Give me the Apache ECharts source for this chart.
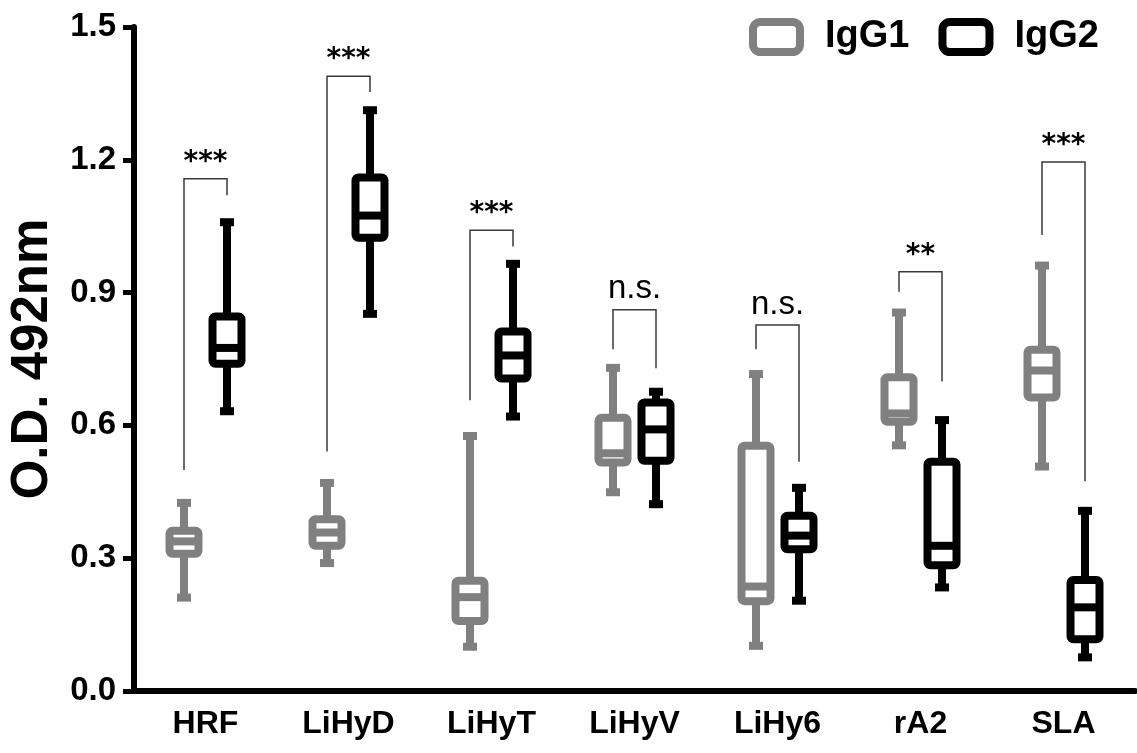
<!DOCTYPE html>
<html>
<head>
<meta charset="utf-8">
<script src="https://cdn.jsdelivr.net/npm/echarts@6/dist/echarts.min.js"></script>
<style>html,body{margin:0;padding:0;background:#fff;}#c{width:1137px;height:753px;}</style>
</head>
<body>
<div id="c"></div>
<script>
// ---- data ----
const categories = ['HRF', 'LiHyD', 'LiHyT', 'LiHyV', 'LiHy6', 'rA2', 'SLA'];
const yTicks = [0, 0.3, 0.6, 0.9, 1.2, 1.5];
// [min, Q1, median, Q3, max]
const igg1 = [
  [0.211, 0.310, 0.338, 0.362, 0.425],
  [0.289, 0.328, 0.358, 0.388, 0.470],
  [0.100, 0.158, 0.212, 0.249, 0.576],
  [0.449, 0.516, 0.537, 0.617, 0.730],
  [0.102, 0.203, 0.236, 0.554, 0.716],
  [0.555, 0.608, 0.627, 0.709, 0.855],
  [0.507, 0.663, 0.724, 0.771, 0.961]
];
const igg2 = [
  [0.632, 0.739, 0.775, 0.846, 1.059],
  [0.852, 1.024, 1.074, 1.160, 1.312],
  [0.620, 0.706, 0.758, 0.812, 0.965],
  [0.422, 0.520, 0.591, 0.652, 0.676],
  [0.204, 0.320, 0.351, 0.396, 0.459],
  [0.234, 0.284, 0.328, 0.518, 0.612],
  [0.076, 0.117, 0.189, 0.251, 0.407]
];
const sigLabels = ['***', '***', '***', 'n.s.', 'n.s.', '**', '***'];
const bracketTop = [1.157, 1.389, 1.041, 0.861, 0.827, 0.947, 1.195];
const bracketLeftEnd = [0.499, 0.541, 0.657, 0.772, 0.772, 0.902, 1.030];
const bracketRightEnd = [1.120, 1.353, 1.004, 0.729, 0.518, 0.699, 0.474];

// ---- chart ----
const GRAY = '#808080';
const BLACK = '#000000';
const OFFSET = 21.5;
const BOLD = '"Liberation Sans", Arial, sans-serif';

function boxRenderer(offset, color) {
  return function (params, api) {
    const ci = api.value(0);
    const cx = api.coord([ci, 0])[0] + offset;
    const yMin = api.coord([ci, api.value(1)])[1];
    const yQ1 = api.coord([ci, api.value(2)])[1];
    const yMed = api.coord([ci, api.value(3)])[1];
    const yQ3 = api.coord([ci, api.value(4)])[1];
    const yMax = api.coord([ci, api.value(5)])[1];
    const bw = 29, lw = 8, capW = 14, capH = 8;
    const line = (x1, y1, x2, y2) => ({
      type: 'line', shape: { x1, y1, x2, y2 },
      style: { stroke: color, lineWidth: lw }
    });
    return {
      type: 'group',
      children: [
        line(cx, yMax, cx, yQ3),
        line(cx, yQ1, cx, yMin),
        { type: 'rect', shape: { x: cx - capW / 2, y: yMax - capH / 2, width: capW, height: capH }, style: { fill: color } },
        { type: 'rect', shape: { x: cx - capW / 2, y: yMin - capH / 2, width: capW, height: capH }, style: { fill: color } },
        { type: 'rect', shape: { x: cx - bw / 2, y: yQ3, width: bw, height: yQ1 - yQ3, r: 3 },
          style: { fill: '#fff', stroke: color, lineWidth: lw } },
        line(cx - bw / 2, yMed, cx + bw / 2, yMed)
      ]
    };
  };
}

function bracketRenderer(params, api) {
  const ci = api.value(0);
  const cx = api.coord([ci, 0])[0];
  const xl = cx - OFFSET, xr = cx + OFFSET;
  const yt = api.coord([ci, api.value(1)])[1];
  const yl = api.coord([ci, api.value(2)])[1];
  const yr = api.coord([ci, api.value(3)])[1];
  const label = sigLabels[ci];
  const isNs = label === 'n.s.';
  return {
    type: 'group',
    children: [
      { type: 'polyline', shape: { points: [[xl, yl], [xl, yt], [xr, yt], [xr, yr]] },
        style: { stroke: '#3a3a3a', lineWidth: 1.5, fill: null } },
      { type: 'text', x: cx, y: yt - (isNs ? 4 : 2),
        style: { text: label, textAlign: 'center', textVerticalAlign: 'bottom',
          fill: '#000', font: isNs ? '33px "Liberation Sans", Arial, sans-serif' : 'bold 28px "DejaVu Sans", sans-serif' } }
    ]
  };
}

const chart = echarts.init(document.getElementById('c'), null, { renderer: 'canvas' });
chart.setOption({
  animation: false,
  backgroundColor: '#fff',
  grid: { left: 134, right: 2, top: 27, bottom: 62, containLabel: false, outerBoundsMode: 'none' },
  legend: {
    left: 749, top: 18, padding: 0, itemGap: 29,
    itemWidth: 47, itemHeight: 30, selectedMode: false,
    textStyle: { fontFamily: BOLD, fontWeight: 'bold', fontSize: 38, color: '#000', padding: [0, 0, 0, 20] },
    data: [
      { name: 'IgG1', icon: 'roundRect', itemStyle: { color: '#fff', borderColor: GRAY, borderWidth: 8 } },
      { name: 'IgG2', icon: 'roundRect', itemStyle: { color: '#fff', borderColor: BLACK, borderWidth: 8 } }
    ]
  },
  xAxis: {
    type: 'category', data: categories,
    axisLine: { lineStyle: { color: '#000', width: 6 } },
    axisTick: { show: false },
    axisLabel: { margin: 17, color: '#000', fontFamily: BOLD, fontWeight: 'bold', fontSize: 32 }
  },
  yAxis: {
    type: 'value', min: yTicks[0], max: yTicks[yTicks.length - 1], interval: 0.3,
    name: 'O.D. 492nm', nameLocation: 'middle', nameGap: 76,
    nameTextStyle: { fontFamily: BOLD, fontWeight: 'bold', fontSize: 51, color: '#000' },
    axisLine: { show: true, lineStyle: { color: '#000', width: 6 } },
    axisTick: { show: true, length: 11, lineStyle: { color: '#000', width: 5 } },
    splitLine: { show: false },
    axisLabel: { margin: 18, color: '#000', fontFamily: BOLD, fontWeight: 'bold', fontSize: 33,
      formatter: v => v.toFixed(1) }
  },
  series: [
    { name: 'IgG1', type: 'custom', renderItem: boxRenderer(-OFFSET, GRAY), itemStyle: { color: GRAY },
      data: igg1.map((d, i) => [i, ...d]), z: 3 },
    { name: 'IgG2', type: 'custom', renderItem: boxRenderer(OFFSET, BLACK), itemStyle: { color: BLACK },
      data: igg2.map((d, i) => [i, ...d]), z: 3 },
    { name: 'sig', type: 'custom', renderItem: bracketRenderer, silent: true,
      data: categories.map((c, i) => [i, bracketTop[i], bracketLeftEnd[i], bracketRightEnd[i]]), z: 2 }
  ]
});
</script>
</body>
</html>
